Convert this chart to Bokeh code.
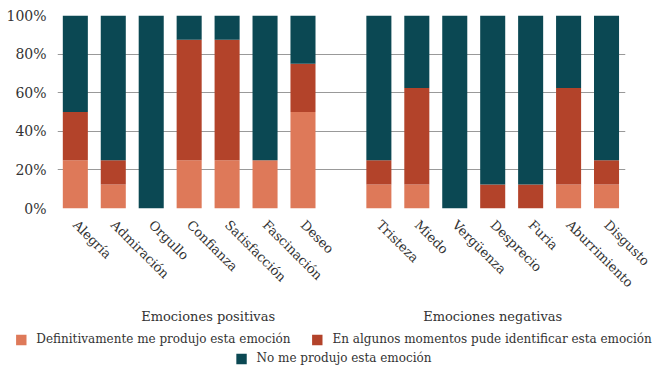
import math
from bokeh.plotting import figure
from bokeh.models import (ColumnDataSource, Legend, LegendItem, FixedTicker, PrintfTickFormatter,
                          Range1d, LinearAxis)
from bokeh.embed import file_html
from bokeh.resources import INLINE

positivas = ["Alegría", "Admiración", "Orgullo", "Confianza", "Satisfacción", "Fascinación", "Deseo"]
negativas = ["Tristeza", "Miedo", "Vergüenza", "Desprecio", "Furia", "Aburrimiento", "Disgusto"]

definitivamente = [25, 12.5, 0, 25, 25, 25, 50, 12.5, 12.5, 0, 0, 0, 12.5, 12.5]
algunos = [25, 12.5, 0, 62.5, 62.5, 0, 25, 12.5, 50, 0, 12.5, 12.5, 50, 12.5]
no_produjo = [50, 75, 100, 12.5, 12.5, 75, 25, 75, 37.5, 100, 87.5, 87.5, 37.5, 75]

series = ["definitivamente", "algunos", "no_produjo"]
series_labels = ["Definitivamente me produjo esta emoción",
                 "En algunos momentos pude identificar esta emoción",
                 "No me produjo esta emoción"]
colors = ["#DE7959", "#B3432A", "#0B4853"]
group_labels = ["Emociones positivas", "Emociones negativas"]
y_ticks = [0, 20, 40, 60, 80, 100]

cats = positivas + negativas
xs = list(range(len(positivas))) + [len(positivas) + 1 + i for i in range(len(negativas))]
group_x = [3.5, 11.0]

src = ColumnDataSource(dict(x=xs, definitivamente=definitivamente, algunos=algunos, no_produjo=no_produjo))

FONT = "DejaVu Serif"
TXT = "#333333"

p = figure(frame_width=568, frame_height=193, output_backend="svg", toolbar_location=None,
           x_range=Range1d(-0.47, 14.5), y_range=Range1d(0, 100),
           min_border_left=57, min_border_right=41, min_border_top=15, min_border_bottom=0)
p.outline_line_color = None

rs = p.vbar_stack(series, x="x", width=0.66, source=src, color=colors, line_color=None)

p.xaxis.ticker = FixedTicker(ticks=xs)
p.xaxis.major_label_overrides = {x: c for x, c in zip(xs, cats)}
p.xaxis.major_label_orientation = -math.pi / 4
p.xaxis.major_tick_line_color = None
p.xaxis.minor_tick_line_color = None
p.xaxis.axis_line_color = None
p.xaxis.major_label_text_font = FONT
p.xaxis.major_label_text_font_size = "13px"
p.xaxis.major_label_text_color = TXT
p.xaxis.major_label_standoff = 8
p.xgrid.grid_line_color = None

gaxis = LinearAxis(ticker=FixedTicker(ticks=group_x),
                   major_label_overrides={gx: gl for gx, gl in zip(group_x, group_labels)},
                   major_tick_line_color=None, minor_tick_line_color=None, axis_line_color=None,
                   major_label_text_font=FONT, major_label_text_font_size="13px",
                   major_label_text_color=TXT, major_label_standoff=4)
p.add_layout(gaxis, "below")

p.yaxis.ticker = FixedTicker(ticks=y_ticks)
p.yaxis.formatter = PrintfTickFormatter(format="%d%%")
p.yaxis.axis_line_color = None
p.yaxis.major_tick_line_color = None
p.yaxis.minor_tick_line_color = None
p.yaxis.major_label_text_font = FONT
p.yaxis.major_label_text_font_size = "14px"
p.yaxis.major_label_text_color = TXT
p.ygrid.grid_line_color = "#999999"
p.ygrid.grid_line_width = 1.2

# legend-only strip below the chart (swatch renderers have zero height: nothing visible)
p2 = figure(width=666, height=41, output_backend="svg", toolbar_location=None,
            x_axis_location=None, y_axis_location=None,
            x_range=Range1d(0, 1), y_range=Range1d(0, 1),
            min_border_left=0, min_border_right=0, min_border_top=0, min_border_bottom=0)
p2.outline_line_color = None
p2.grid.grid_line_color = None
swatches = [p2.vbar(x=[0.5], top=[0], bottom=[0], width=0.01, color=c, line_color=None) for c in colors]

leg1 = Legend(items=[LegendItem(label=series_labels[0], renderers=[swatches[0]]),
                     LegendItem(label=series_labels[1], renderers=[swatches[1]])],
              location="top_center", orientation="horizontal")
leg2 = Legend(items=[LegendItem(label=series_labels[2], renderers=[swatches[2]])],
              location="bottom_center", orientation="horizontal")
for lg, m in ((leg1, 6), (leg2, 2)):
    lg.background_fill_alpha = 0
    lg.border_line_color = None
    lg.padding = 0
    lg.margin = m
    lg.spacing = 20
    lg.glyph_width = 13
    lg.glyph_height = 13
    lg.label_height = 13
    lg.label_text_font = FONT
    lg.label_text_font_size = "12px"
    lg.label_text_color = TXT
    lg.label_standoff = 9
    p2.add_layout(lg, "center")

open("out.html", "w").write(file_html([p, p2], INLINE))
